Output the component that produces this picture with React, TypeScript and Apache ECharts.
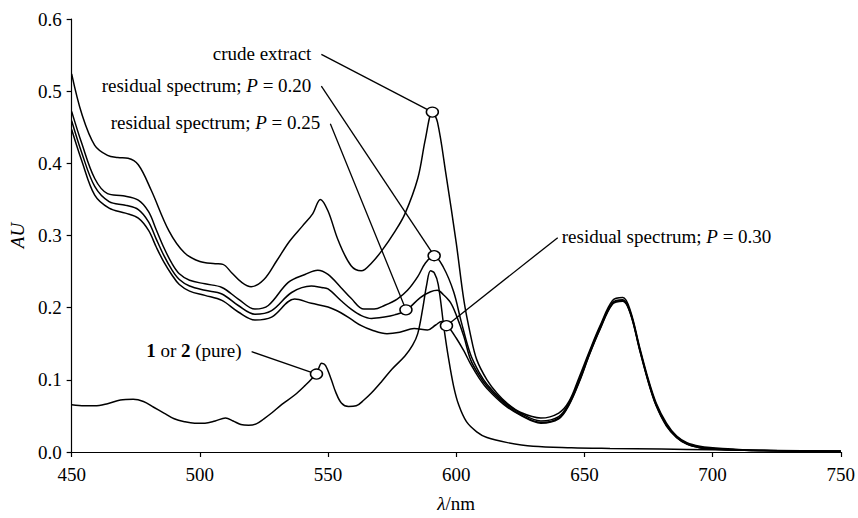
import React, { useEffect, useRef } from 'react';
import * as echarts from 'echarts';

// [wavelength (nm), absorbance (AU)]
const crudeExtract: [number, number][] = [
  [450, 0.524], [454, 0.468], [459, 0.425], [464, 0.411], [468, 0.408], [472, 0.407], [476, 0.398],
  [481, 0.363], [488, 0.306], [494, 0.276], [500, 0.264], [506, 0.261], [509, 0.260], [512.5, 0.248],
  [516, 0.236], [520, 0.229], [525, 0.239], [530, 0.265], [535, 0.292], [540, 0.313], [544, 0.330],
  [547, 0.350], [550, 0.334], [554, 0.293], [559, 0.258], [563, 0.251], [567, 0.262], [571, 0.279],
  [576, 0.305], [580, 0.330], [585, 0.379], [588, 0.434], [590.7, 0.471], [592.7, 0.457], [596, 0.385],
  [600, 0.290], [603, 0.210], [605.6, 0.162], [608, 0.128], [612, 0.100], [616, 0.081], [620, 0.067],
  [625, 0.055], [633, 0.047], [640, 0.054], [644, 0.070], [648, 0.104], [652, 0.140], [656, 0.174],
  [661, 0.210], [665, 0.214], [668, 0.195], [671.5, 0.146], [675, 0.100], [678, 0.068], [682, 0.040],
  [686, 0.022], [690, 0.013], [695, 0.008], [700, 0.006], [708, 0.004], [720, 0.002], [750, 0.001],
];

const residualP20: [number, number][] = [
  [450, 0.472], [454, 0.427], [459, 0.379], [464, 0.358], [470, 0.355], [476, 0.349], [480, 0.333],
  [483, 0.308], [486, 0.283], [489, 0.262], [492, 0.247], [496, 0.238], [502, 0.233], [508.6, 0.228],
  [515, 0.212], [521.5, 0.198], [526.7, 0.203], [534.5, 0.235], [541, 0.246], [546, 0.252], [550, 0.246],
  [555, 0.228], [559, 0.213], [564, 0.198], [568, 0.198], [572, 0.203], [577, 0.212], [581, 0.224],
  [585, 0.243], [588, 0.262], [591.3, 0.272], [595, 0.256], [599, 0.222], [602, 0.180], [605.6, 0.135],
  [609, 0.110], [612, 0.094], [618.5, 0.070], [625, 0.054], [633, 0.043], [640, 0.049], [644, 0.068],
  [648, 0.100], [652, 0.138], [656, 0.172], [661, 0.207], [665, 0.211], [668, 0.193], [671.5, 0.144],
  [675, 0.098], [678, 0.066], [682, 0.038], [686, 0.021], [690, 0.012], [695, 0.007], [700, 0.005],
  [708, 0.003], [720, 0.002], [750, 0.001],
];

const residualP25: [number, number][] = [
  [450, 0.459], [454, 0.414], [459, 0.368], [464.6, 0.347], [471, 0.342], [476, 0.336], [480, 0.319],
  [483, 0.295], [486, 0.272], [489, 0.253], [492, 0.239], [496, 0.230], [502, 0.224], [508.6, 0.219],
  [515, 0.203], [521.5, 0.191], [528, 0.196], [535.8, 0.221], [543.5, 0.230], [547.4, 0.228], [550, 0.226],
  [555, 0.210], [559, 0.198], [563, 0.189], [567, 0.185], [572, 0.187], [576, 0.190], [580.4, 0.196],
  [586, 0.214], [590, 0.222], [592.7, 0.224], [595, 0.218], [597.8, 0.207], [600, 0.190], [603, 0.160],
  [605.6, 0.128], [609, 0.106], [612, 0.091], [618.5, 0.068], [625, 0.052], [633, 0.041], [640, 0.047],
  [644, 0.066], [648, 0.098], [652, 0.136], [656, 0.170], [661, 0.206], [665, 0.210], [668, 0.192],
  [671.5, 0.143], [675, 0.097], [678, 0.065], [682, 0.037], [686, 0.020], [690, 0.011], [695, 0.006],
  [700, 0.004], [708, 0.003], [720, 0.002], [750, 0.001],
];

const residualP30: [number, number][] = [
  [450, 0.447], [454, 0.403], [459, 0.356], [464.6, 0.338], [471, 0.331], [476, 0.324], [480, 0.307],
  [483, 0.284], [486, 0.263], [489, 0.246], [492, 0.232], [496, 0.223], [502, 0.217], [508.6, 0.210],
  [515, 0.194], [521.5, 0.183], [528, 0.187], [537, 0.212], [543.5, 0.206], [550, 0.201], [555, 0.193],
  [559, 0.184], [563, 0.175], [567, 0.169], [573, 0.164], [578, 0.166], [583.6, 0.171], [588.8, 0.169],
  [592, 0.176], [594.3, 0.181], [596.6, 0.175], [600, 0.158], [603, 0.140], [605.6, 0.122], [609, 0.102],
  [612, 0.088], [618.5, 0.066], [625, 0.051], [633, 0.040], [640, 0.046], [644, 0.065], [648, 0.097],
  [652, 0.135], [656, 0.169], [661, 0.205], [665, 0.209], [668, 0.191], [671.5, 0.142], [675, 0.096],
  [678, 0.064], [682, 0.036], [686, 0.020], [690, 0.011], [695, 0.006], [700, 0.004], [708, 0.003],
  [720, 0.002], [750, 0.001],
];

const purePigment: [number, number][] = [
  [450, 0.0655], [455, 0.064], [459, 0.064], [464, 0.067], [469, 0.072], [474, 0.073], [478, 0.070],
  [482, 0.062], [486, 0.054], [490, 0.046], [494, 0.042], [498, 0.040], [502, 0.040], [506, 0.043],
  [510, 0.047], [513, 0.043], [516, 0.038], [519, 0.037], [522, 0.039], [525, 0.046], [528, 0.054],
  [532, 0.066], [537, 0.079], [541, 0.092], [544, 0.103], [546, 0.113], [547.5, 0.123], [549, 0.120],
  [551.3, 0.100], [553, 0.083], [555.2, 0.068], [558, 0.063], [561, 0.064], [564, 0.072], [567, 0.082],
  [571, 0.098], [575, 0.115], [580, 0.133], [583, 0.148], [585, 0.164], [587, 0.200], [588.5, 0.232],
  [590, 0.251], [591.5, 0.248], [593, 0.232], [595.3, 0.170], [597, 0.130], [599, 0.091], [601, 0.065],
  [604, 0.042], [608, 0.028], [612, 0.020], [620, 0.013], [630, 0.008], [645, 0.006], [660, 0.005],
  [680, 0.004], [700, 0.003], [725, 0.002], [750, 0.001],
];

// annotated points on the curves
const markedPoints: [number, number][] = [
  [590.7, 0.471], // crude extract
  [591.4, 0.272], // P = 0.20
  [580.4, 0.197], // P = 0.25
  [596.2, 0.175], // P = 0.30
  [545.5, 0.108], // pure
];

const annotationTexts: string[] = [
  '{t|crude extract}',
  '{t|residual spectrum; }{i|P}{t| = 0.20}',
  '{t|residual spectrum; }{i|P}{t| = 0.25}',
  '{t|residual spectrum; }{i|P}{t| = 0.30}',
  '{b|1}{t| or }{b|2}{t| (pure)}',
];

// layout: where each leader line starts (data coords), and which side the text sits
const leaderStarts: [number, number][] = [
  [547.4, 0.551],
  [547.4, 0.507],
  [550.9, 0.455],
  [639.6, 0.297],
  [520.2, 0.139],
];
const textSide: ('left' | 'right')[] = ['left', 'left', 'left', 'right', 'left'];

const xTicks = { min: 450, max: 750, interval: 50 };
const yTicks = { min: 0, max: 0.6, interval: 0.1 };

const FONT = '"Liberation Serif", "Times New Roman", serif';
const FS = 19;

export default function App() {
  const ref = useRef<HTMLDivElement>(null);

  useEffect(() => {
    if (!ref.current) return;
    const chart = echarts.init(ref.current, null, { renderer: 'svg' });

    const curve = (name: string, data: [number, number][]) => ({
      type: 'line',
      name,
      data,
      smooth: 0.35,
      symbol: 'none',
      silent: true,
      lineStyle: { color: '#000', width: 1.5 },
      z: 2,
    });

    const axisText = { color: '#000', fontFamily: FONT, fontSize: FS };

    chart.setOption({
      animation: false,
      backgroundColor: '#fff',
      grid: { left: 69, right: 17, top: 19, bottom: 62 },
      xAxis: {
        type: 'value',
        ...xTicks,
        name: '{i|λ}{t|/nm}',
        nameLocation: 'middle',
        nameGap: 42,
        nameTextStyle: {
          ...axisText,
          rich: {
            i: { fontFamily: FONT, fontSize: FS, fontStyle: 'italic', color: '#000' },
            t: { fontFamily: FONT, fontSize: FS, color: '#000' },
          },
        },
        axisLine: { show: true, onZero: false, lineStyle: { color: '#000', width: 1.2 } },
        axisTick: { show: true, inside: false, length: 5, lineStyle: { color: '#000', width: 1.2 } },
        axisLabel: { ...axisText, margin: 13 },
        splitLine: { show: false },
      },
      yAxis: {
        type: 'value',
        ...yTicks,
        name: 'AU',
        nameLocation: 'middle',
        nameGap: 42,
        nameTextStyle: { ...axisText, fontStyle: 'italic' },
        axisLine: { show: true, lineStyle: { color: '#000', width: 1.2 } },
        axisTick: { show: true, inside: false, length: 5, lineStyle: { color: '#000', width: 1.2 } },
        axisLabel: { ...axisText, margin: 10, formatter: (v: number) => v.toFixed(1) },
        splitLine: { show: false },
      },
      series: [
        curve('crude extract', crudeExtract),
        curve('residual spectrum; P = 0.20', residualP20),
        curve('residual spectrum; P = 0.25', residualP25),
        curve('residual spectrum; P = 0.30', residualP30),
        curve('1 or 2 (pure)', purePigment),
        {
          type: 'scatter',
          data: markedPoints,
          symbol: 'circle',
          symbolSize: [12, 10],
          silent: true,
          itemStyle: { color: '#fff', borderColor: '#000', borderWidth: 1.4, opacity: 1 },
          z: 10,
        },
      ],
    });

    const px = (p: [number, number]) => chart.convertToPixel({ gridIndex: 0 }, p) as number[];
    const elements: any[] = [];
    annotationTexts.forEach((txt, i) => {
      const s = px(leaderStarts[i]);
      const e = px(markedPoints[i]);
      elements.push({
        type: 'line',
        z: 5,
        silent: true,
        shape: { x1: s[0], y1: s[1], x2: e[0], y2: e[1] },
        style: { stroke: '#000', lineWidth: 1.3 },
      });
      const left = textSide[i] === 'left';
      elements.push({
        type: 'text',
        z: 6,
        silent: true,
        x: left ? s[0] - 10 : s[0] + 4,
        y: s[1] - 1,
        style: {
          text: txt,
          align: left ? 'right' : 'left',
          verticalAlign: 'middle',
          fill: '#000',
          font: `${FS}px ${FONT}`,
          rich: {
            t: { fontFamily: FONT, fontSize: FS, fill: '#000' },
            i: { fontFamily: FONT, fontSize: FS, fontStyle: 'italic', fill: '#000' },
            b: { fontFamily: FONT, fontSize: FS, fontWeight: 'bold', fill: '#000' },
          },
        },
      });
    });
    chart.setOption({ graphic: { elements } });

    return () => chart.dispose();
  }, []);

  return (
    <div
      ref={ref}
      style={{ position: 'fixed', left: 0, top: 0, width: 858, height: 518 }}
    />
  );
}
